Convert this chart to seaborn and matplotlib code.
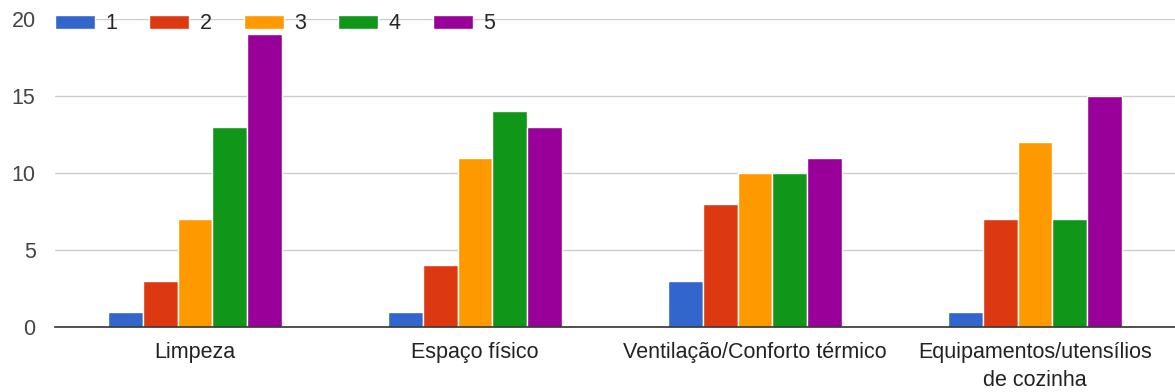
import seaborn as sns
import matplotlib.pyplot as plt
import pandas as pd

categories = ['Limpeza', 'Espaço físico', 'Ventilação/Conforto térmico',
              'Equipamentos/utensílios\nde cozinha']
series = ['1', '2', '3', '4', '5']
vals_1 = [1, 1, 3, 1]
vals_2 = [3, 4, 8, 7]
vals_3 = [7, 11, 10, 12]
vals_4 = [13, 14, 10, 7]
vals_5 = [19, 13, 11, 15]
colors = ['#3366cc', '#dc3912', '#ff9900', '#109618', '#990099']

rows = []
for s, vals in zip(series, [vals_1, vals_2, vals_3, vals_4, vals_5]):
    for c, v in zip(categories, vals):
        rows.append({'cat': c, 'serie': s, 'n': v})
df = pd.DataFrame(rows)

sns.set_style('white')
plt.rcParams['font.family'] = ['Liberation Sans', 'DejaVu Sans']

fig = plt.figure(figsize=(11.75, 3.92), dpi=100)
ax = fig.add_axes([55 / 1175, 1 - 327 / 392, 1120 / 1175, 308 / 392])

sns.barplot(data=df, x='cat', y='n', hue='serie', palette=colors, width=0.62,
            saturation=1, edgecolor='white', linewidth=1, ax=ax, zorder=3)

ax.set_ylim(0, 20)
ax.set_yticks([0, 5, 10, 15, 20])
ax.yaxis.grid(True, color='#cccccc', linewidth=1, zorder=0)
ax.set_axisbelow(True)
for side in ['top', 'right', 'left']:
    ax.spines[side].set_visible(False)
ax.spines['bottom'].set_color('#333333')
ax.spines['bottom'].set_linewidth(1.2)
ax.spines['bottom'].set_zorder(5)
ax.tick_params(axis='both', length=0, labelsize=15.5, labelcolor='#222222')
ax.tick_params(axis='y', pad=14, labelcolor='#444444')
ax.tick_params(axis='x', pad=11)
for lab in ax.get_xticklabels():
    lab.set_linespacing(1.4)
ax.set_xlabel('')
ax.set_ylabel('')

ax.legend(loc='center left', bbox_to_anchor=(0, 0.985), ncol=5,
          frameon=False, fontsize=15.5, handlelength=1.86, handleheight=0.62,
          handletextpad=0.47, columnspacing=1.5, borderpad=0, borderaxespad=0)

fig.savefig('out.png', dpi=100)
